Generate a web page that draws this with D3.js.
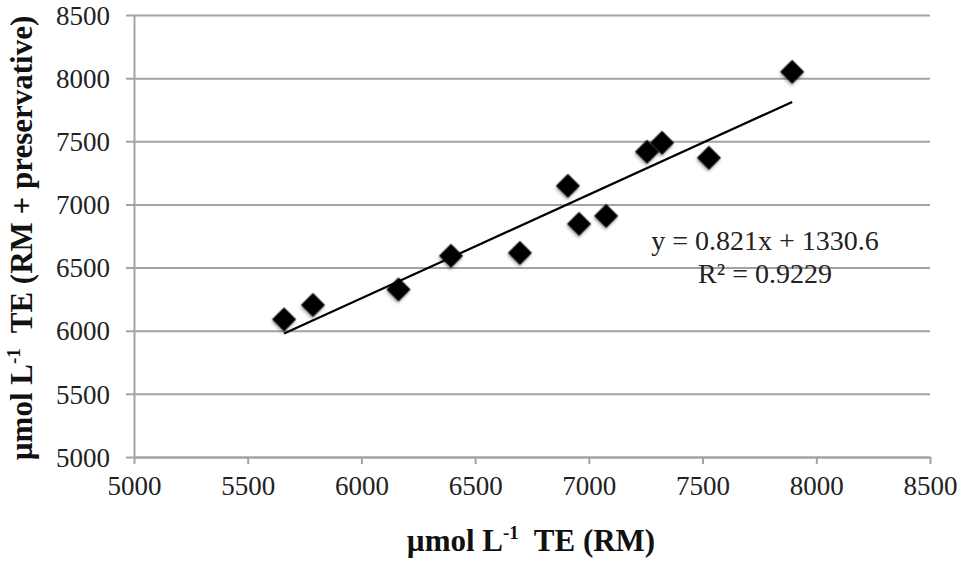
<!DOCTYPE html>
<html>
<head>
<meta charset="utf-8">
<style>
    body { margin: 0; background: #fff; }
    svg { display: block; font-family: 'Liberation Serif', 'Times New Roman', serif; }
    .axis .domain { stroke: #a3a3a3; stroke-width: 2; }
    .axis .tick line { stroke: #a3a3a3; stroke-width: 2; }
    .axis .tick text { font-size: 27px; fill: #222; font-family: 'Liberation Serif', serif; }
    .axis-title { font-size: 31px; font-weight: bold; fill: #111; }
    .eq { font-size: 28px; fill: #222; }
</style>
</head>
<body>
<svg width="966" height="562"></svg>
<script src="https://d3js.org/d3.v7.min.js"></script>
<script>
    // values
    let rmValues = [5660, 5787, 6163, 6394, 6697, 6908, 6957, 7076, 7256, 7322, 7528, 7894]
    let rmPreservValues = [6090, 6204, 6327, 6593, 6616, 7147, 6846, 6909, 7417, 7488, 7369, 8050]
    let xTicks = [5000, 5500, 6000, 6500, 7000, 7500, 8000, 8500]
    let yTicks = [5000, 5500, 6000, 6500, 7000, 7500, 8000, 8500]
    let trendSlope = 0.821
    let trendIntercept = 1330.6
    let eqLines = ["y = 0.821x + 1330.6", "R\u00b2 = 0.9229"]

    let width = 966
    let height = 562
    let margin = { top: 15, right: 36, bottom: 105, left: 134 }

    let svg = d3.select("svg")

    let x = d3.scaleLinear()
        .domain([5000, 8500])
        .range([margin.left, width - margin.right])

    let y = d3.scaleLinear()
        .domain([5000, 8500])
        .range([height - margin.bottom, margin.top])

    let plotW = width - margin.right - margin.left

    // y axis with gridlines
    svg.append("g")
        .attr("class", "y axis")
        .attr("transform", `translate(${margin.left},0)`)
        .call(d3.axisLeft(y).tickValues(yTicks).tickSizeOuter(0).tickFormat(d3.format("d")))
        .call(g => g.selectAll(".tick line").attr("x1", -8).attr("x2", plotW))
        .call(g => g.selectAll(".tick text").attr("x", -24).attr("dy", "0.34em"))

    // x axis
    svg.append("g")
        .attr("class", "x axis")
        .attr("transform", `translate(0,${height - margin.bottom})`)
        .call(d3.axisBottom(x).tickValues(xTicks).tickSize(7).tickSizeOuter(0).tickFormat(d3.format("d")))
        .call(g => g.selectAll(".tick text").attr("y", 19).attr("dy", "0.71em"))

    // trendline
    let ext = d3.extent(rmValues)
    let line = d3.line()
        .x(d => x(d))
        .y(d => y(trendSlope * d + trendIntercept))

    svg.append("path")
        .attr("d", line(ext))
        .attr("fill", "none")
        .attr("stroke", "#000")
        .attr("stroke-width", 2.2)

    // soft shadow like the spreadsheet markers
    let defs = svg.append("defs")
    defs.append("filter")
        .attr("id", "shadow")
        .attr("x", "-50%").attr("y", "-50%").attr("width", "200%").attr("height", "200%")
        .append("feDropShadow")
        .attr("dx", 1).attr("dy", 2)
        .attr("stdDeviation", 1.6)
        .attr("flood-color", "#000")
        .attr("flood-opacity", 0.35)

    let diamond = d3.symbol().type(d3.symbolSquare).size(17 * 17)

    svg.append("g")
        .selectAll("path")
        .data(rmValues.map((v, i) => [v, rmPreservValues[i]]))
        .join("path")
        .attr("d", diamond)
        .attr("transform", d => `translate(${x(d[0])},${y(d[1])}) rotate(45)`)
        .attr("fill", "#000")
        .attr("filter", "url(#shadow)")

    // equation
    svg.append("text")
        .attr("class", "eq")
        .attr("x", 765)
        .attr("y", 250)
        .attr("text-anchor", "middle")
        .text(eqLines[0])

    svg.append("text")
        .attr("class", "eq")
        .attr("x", 765)
        .attr("y", 283)
        .attr("text-anchor", "middle")
        .text(eqLines[1])

    // axis titles
    let xt = svg.append("text")
        .attr("class", "axis-title")
        .attr("x", 531)
        .attr("y", 551)
        .attr("text-anchor", "middle")
    xt.append("tspan").text("\u00b5mol L")
    xt.append("tspan").attr("dy", -12).attr("font-size", 19).text("-1")
    xt.append("tspan").attr("dy", 12).text("\u00a0 TE (RM)")

    let yt = svg.append("text")
        .attr("class", "axis-title")
        .attr("transform", `translate(32,238) rotate(-90)`)
        .attr("text-anchor", "middle")
    yt.append("tspan").text("\u00b5mol L")
    yt.append("tspan").attr("dy", -12).attr("font-size", 19).text("-1")
    yt.append("tspan").attr("dy", 12).text("\u00a0 TE (RM + preservative)")
</script>
</body>
</html>
